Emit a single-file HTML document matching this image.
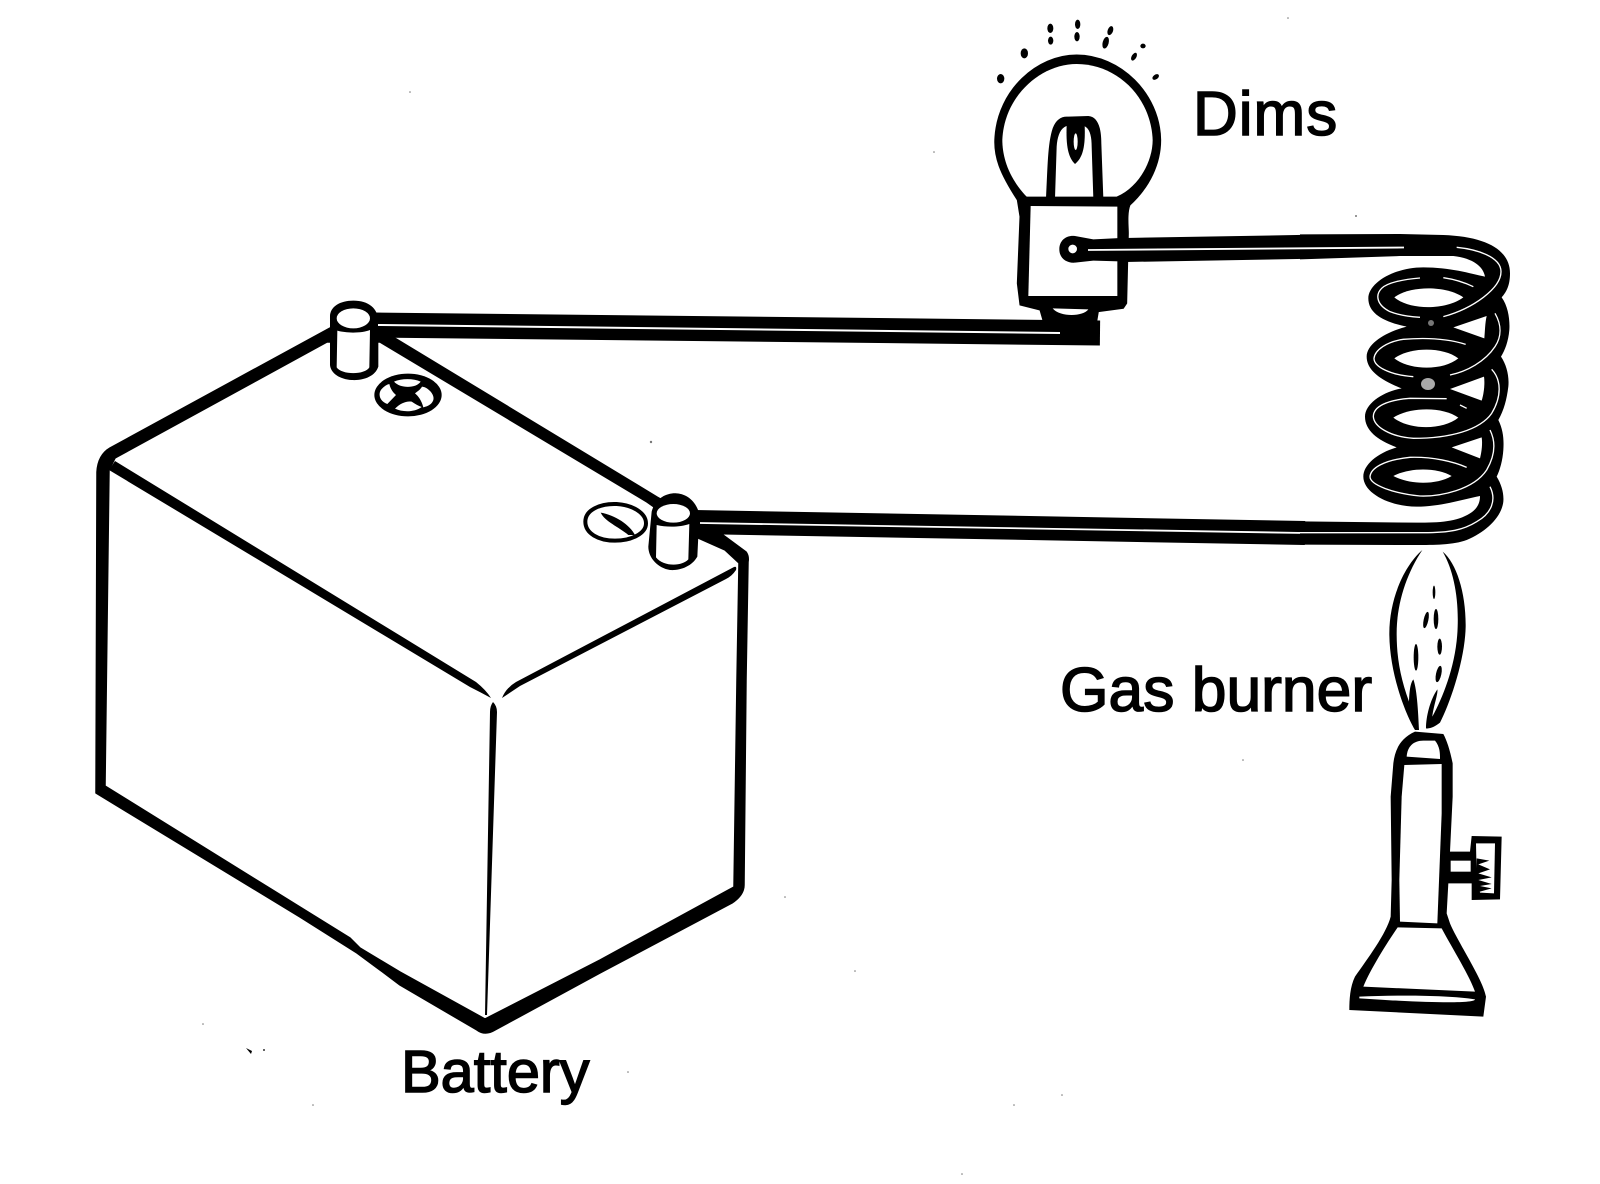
<!DOCTYPE html>
<html><head><meta charset="utf-8"><style>
html,body{margin:0;padding:0;background:#fff;width:1600px;height:1184px;overflow:hidden}
svg{display:block}
text{font-family:"Liberation Sans",Arial,sans-serif;fill:#000;stroke:#000;stroke-width:1.5}
</style></head><body>
<svg width="1600" height="1184" viewBox="0 0 1600 1184" xmlns="http://www.w3.org/2000/svg">
<rect width="1600" height="1184" fill="#fff"/>

<!-- Battery outline -->
<path fill-rule="evenodd" fill="#000" stroke="#000" stroke-width="1.5" stroke-linejoin="round" d="M97,472 Q98,455 110,448 L330,328 L393,337 L657,497 L723,535 L746,552 Q749,556 748,562 L746,680 L744,885 Q744,895 732,903 L600,973 L495,1030 Q485,1036 477,1030 L400,985 L380,970 L357,953 L300,917 L96,793 Z
M115,458 L327,342 L380,342 L647,502 L698,538 L725,550 L739,563 L737,680 L734,887 L600,960 L485,1019 L400,972 L360,948 L350,938 L300,907 L105,786 L109,470 Z"/>
<path fill="#000" d="M109,470 L115,461 L476,682 Q486,690 491,698 Q480,692 470,687 Z"/>
<path fill="#000" d="M502,698 Q506,688 516,682 L734,567 Q737,566 736,570 Q732,576 726,579 L520,686 Z"/>
<path fill="#000" d="M493,702 Q497,706 497,712 L487,1015 L485,1015 L490,712 Q490,706 493,702 Z"/>

<!-- Terminal + -->
<g transform="translate(300,280) scale(.33333)">
<path fill="#000" d="M90,110 C90,80 120,62 160,62 C205,62 235,85 235,125 L235,260 C225,290 190,302 155,300 C120,298 92,280 90,255 Z"/>
<ellipse cx="160" cy="115" rx="50" ry="30" fill="#fff"/>
<path fill="#fff" d="M112,152 C140,160 185,160 210,150 L208,262 C195,285 125,285 110,262 Z"/>
<ellipse cx="324" cy="345" rx="101" ry="64" fill="#000"/>
<g fill="#fff">
<path d="M282,305 C305,295 340,295 362,305 C348,326 300,326 282,305 Z"/>
<path d="M245,327 C252,319 260,314 268,312 C272,330 282,340 288,345 L262,372 C240,365 232,342 245,327 Z"/>
<path d="M285,386 C300,370 320,362 335,365 C345,372 355,378 365,381 C345,396 310,398 285,386 Z"/>
<path d="M366,320 C385,322 405,345 400,360 C396,372 386,378 370,382 C365,362 355,348 345,340 C352,335 362,328 366,320 Z"/>
</g>
</g>

<!-- Terminal - -->
<g transform="translate(560,470) scale(.33333)">
<path fill="#fff" stroke="#000" stroke-width="12" d="M76,155 C76,120 120,100 170,102 C220,105 258,130 258,160 C258,190 215,212 165,212 C115,212 76,190 76,155 Z"/>
<path fill="#000" d="M122,128 C165,135 210,165 225,195 L205,195 C175,170 135,155 122,128 Z"/>
<path fill="#000" d="M275,125 C285,85 320,68 350,70 C385,72 412,100 418,135 L412,260 C395,290 360,302 330,300 C295,295 265,265 265,230 Z"/>
<ellipse cx="340" cy="130" rx="50" ry="28" fill="#fff"/>
<path fill="#fff" d="M290,165 C320,172 360,172 388,162 L385,268 C365,290 310,290 288,262 Z"/>
</g>

<!-- Wires from terminals -->
<path fill="none" stroke="#000" stroke-width="25" d="M375,325 L1100,333"/>
<path fill="none" stroke="#fff" stroke-width="2" d="M378,325 L1060,333"/>
<path fill="none" stroke="#000" stroke-width="24" d="M695,522 L1305,533"/>
<path fill="none" stroke="#fff" stroke-width="1.8" d="M700,523 L1305,533"/>

<!-- Bulb -->
<g transform="translate(960,0) scale(.33333)">
<path fill="#000" stroke="#000" stroke-width="3" d="M172,600 C120,520 100,470 105,410 C115,270 230,165 350,165 C480,165 600,280 602,420 C602,490 570,560 510,615 C500,640 505,680 505,700 L500,910 L490,925 L415,935 L410,965 L250,965 L240,930 L180,915 L172,850 L180,650 Z"/>
<path fill="#fff" d="M195,585 C145,530 127,470 127,420 C132,290 240,192 350,192 C470,192 573,290 578,420 C578,480 540,560 470,590 L200,590 Z"/>
<path fill="#fff" d="M212,618 L472,620 L472,888 L205,888 Z"/>
<path fill="#000" d="M258,595 C263,500 263,430 278,385 C288,358 305,348 325,350 L385,348 C412,350 424,380 424,430 L430,595 L400,595 L395,440 C395,410 390,385 372,378 L320,378 C300,385 292,410 290,440 L285,595 Z"/>
<path fill="#000" d="M320,375 L374,375 C376,430 372,470 345,492 C322,470 318,430 320,375 Z"/>
<ellipse cx="347" cy="425" rx="6" ry="25" fill="#fff"/>
<path fill="#fff" d="M278,925 L385,928 C370,950 300,952 278,925 Z"/>
<ellipse cx="122" cy="236" rx="11" ry="14" fill="#000"/>
<ellipse cx="193" cy="160" rx="11" ry="15" fill="#000"/>
<ellipse cx="271" cy="85" rx="9" ry="14" fill="#000"/>
<ellipse cx="272" cy="122" rx="8" ry="12" fill="#000"/>
<ellipse cx="353" cy="73" rx="8" ry="14" fill="#000"/>
<ellipse cx="351" cy="110" rx="8" ry="14" fill="#000"/>
<ellipse cx="451" cy="92" rx="8" ry="14" fill="#000" transform="rotate(20 451 92)"/>
<ellipse cx="437" cy="128" rx="9" ry="18" fill="#000" transform="rotate(15 437 128)"/>
<ellipse cx="549" cy="138" rx="8" ry="7" fill="#000"/>
<ellipse cx="522" cy="170" rx="7" ry="13" fill="#000" transform="rotate(30 522 170)"/>
<ellipse cx="587" cy="231" rx="11" ry="7" fill="#000" transform="rotate(-35 587 231)"/>
<path fill="#000" d="M298,748 C298,720 320,705 345,708 L400,718 L505,713 L505,785 L400,782 L345,788 C320,790 298,775 298,748 Z"/>
<circle cx="338" cy="747" r="13" fill="#fff"/>
</g>

<!-- Top wire body -->
<path fill="none" stroke="#000" stroke-width="24" d="M1125,250 L1310,246.8"/>

<!-- Coil -->
<g transform="translate(1300,210) scale(.33333)">
<path fill="#000" d="M0,73 L300,72 L430,75 C560,80 630,120 630,190 C630,225 620,245 605,262 C625,290 630,330 628,360 C625,395 615,420 603,440 C620,465 628,500 625,530 C620,570 612,600 595,630 C610,660 612,690 610,720 C608,750 600,780 590,800 C605,825 612,850 610,875 C605,920 560,965 500,990 C460,1005 400,1005 350,1005 L0,1004 L0,934 L350,938 C420,938 470,935 510,910 C535,895 540,875 540,858 C480,870 420,890 350,890 C270,890 190,850 190,800 C190,765 230,730 290,712 C230,690 195,660 195,620 C195,580 250,545 305,535 C240,510 200,480 200,440 C200,400 260,365 320,350 C250,335 205,310 205,265 C205,220 280,172 370,172 C450,172 510,190 555,200 C550,170 520,145 460,138 L300,138 L0,148 Z"/>
<g fill="#fff">
<path d="M283,262 C330,226 440,226 490,262 C440,300 330,302 283,262 Z"/>
<path d="M283,445 C330,410 430,410 475,445 C430,482 330,482 283,445 Z"/>
<path d="M280,623 C330,590 430,590 475,623 C430,660 330,662 280,623 Z"/>
<path d="M280,798 C330,772 410,772 455,798 C410,825 330,825 280,798 Z"/>
<path d="M460,352 L560,318 C555,340 555,365 553,385 Z"/>
<path d="M450,537 L552,500 C555,520 552,550 545,572 Z"/>
<path d="M455,712 L545,682 C548,700 545,725 540,745 Z"/>
</g>
<g fill="none" stroke="#fff" stroke-width="4">
<path d="M470,112 C530,118 603,140 603,185 C603,235 520,295 430,320"/>
<path d="M360,204 C310,208 262,218 245,235 C225,255 230,285 270,305 C295,315 330,320 360,322"/>
<path d="M430,203 C465,208 495,218 520,230"/>
<path d="M585,310 C605,345 605,380 585,410 C555,455 500,485 450,495"/>
<path d="M497,403 C440,385 370,383 310,388 C260,395 225,420 222,445 C222,470 270,495 340,500"/>
<path d="M575,478 C605,510 605,560 575,610 C540,660 450,685 340,685 C270,680 222,650 220,620 C220,590 260,570 330,565 L440,566"/>
<path d="M480,585 L500,595"/>
<path d="M570,660 C590,700 583,740 560,780 C520,840 420,860 360,858 C280,850 210,825 210,800 C212,775 250,750 330,742 C400,740 460,755 500,772"/>
<path d="M570,830 C590,870 575,910 530,935 C490,960 450,968 370,968 L-10,968"/>
</g>
</g>
<!-- Top wire hairline over silhouette -->
<path fill="none" stroke="#fff" stroke-width="1.8" d="M1088,250 L1404,247.5"/>
<circle cx="1431" cy="323" r="3" fill="#777"/>
<ellipse cx="1428" cy="384" rx="7" ry="6" fill="#aaa"/>

<!-- Flame and burner -->
<g transform="translate(1300,530) scale(.33333)" fill="#000">
<path d="M367,60 C310,110 268,210 268,310 C268,420 310,540 345,600 L357,600 C355,560 352,480 340,448 C330,460 328,490 327,515 C300,440 290,380 290,310 C290,220 320,130 367,60 Z"/>
<path d="M428,65 C470,100 498,190 497,290 C495,390 450,520 420,578 C405,590 390,597 378,595 C378,560 390,510 412,478 C415,490 400,530 397,560 C430,500 470,400 473,290 C476,200 460,120 428,65 Z"/>
<ellipse cx="402" cy="187" rx="4" ry="20"/>
<ellipse cx="408" cy="267" rx="7" ry="30"/>
<ellipse cx="378" cy="270" rx="7" ry="25" transform="rotate(12 378 270)"/>
<ellipse cx="419" cy="350" rx="7" ry="24"/>
<ellipse cx="348" cy="382" rx="7" ry="40"/>
<ellipse cx="416" cy="432" rx="8" ry="25" transform="rotate(12 416 432)"/>
<path d="M345,605 C300,625 285,660 280,700 L272,800 L275,1050 L272,1160 C260,1210 200,1290 165,1340 C150,1370 148,1410 148,1440 L550,1460 L558,1400 C550,1350 470,1230 450,1180 L440,1150 L445,1060 L515,1060 L515,1110 L600,1108 L605,920 L515,918 L510,965 L450,965 L458,800 L458,700 C450,660 440,630 430,612 Z"/>
<g fill="#fff">
<path d="M320,680 C322,650 340,632 370,632 L405,632 C420,650 420,670 420,687 Z"/>
<path d="M313,705 L425,702 L425,850 L412,1180 L300,1175 L298,1050 L305,800 Z"/>
<path d="M293,1192 L425,1195 C460,1260 510,1340 525,1385 L190,1370 C210,1320 260,1240 293,1192 Z"/>
<path d="M178,1400 C290,1395 440,1395 525,1408 C525,1420 400,1420 178,1405 Z"/>
<rect x="452" y="992" width="60" height="33"/>
<path d="M528,940 L585,940 L582,1090 L540,1088 L530,1040 Z"/>
</g>
<path d="M530,985 L568,992 L535,1003 L570,1018 L535,1030 L575,1042 L535,1050 L575,1062 L540,1068 L575,1075 L540,1085 L528,1085 Z"/>
</g>

<!-- Labels -->
<text x="1193" y="135" font-size="62" letter-spacing="1">Dims</text>
<text x="1060" y="711" font-size="62.4">Gas burner</text>
<text x="401" y="1092" font-size="59.5">Battery</text>

<!-- Specks -->
<g fill="#777">
<circle cx="651" cy="442" r="1.2"/><circle cx="410" cy="92" r=".8"/><circle cx="934" cy="152" r=".8"/>
<circle cx="1288" cy="18" r=".8"/><circle cx="1356" cy="216" r="1"/><circle cx="1243" cy="760" r=".8"/>
<circle cx="785" cy="897" r=".8"/><circle cx="855" cy="971" r=".8"/><circle cx="203" cy="1024" r=".8"/>
<circle cx="628" cy="1072" r=".8"/><circle cx="313" cy="1105" r=".8"/><circle cx="1014" cy="1105" r=".8"/>
<circle cx="1062" cy="1095" r=".8"/><circle cx="962" cy="1174" r=".8"/>
</g>
<path fill="#000" d="M246,1048 L252,1051 L251,1054 Z"/><circle cx="264" cy="1050" r="1" fill="#333"/>
</svg>
</body></html>
